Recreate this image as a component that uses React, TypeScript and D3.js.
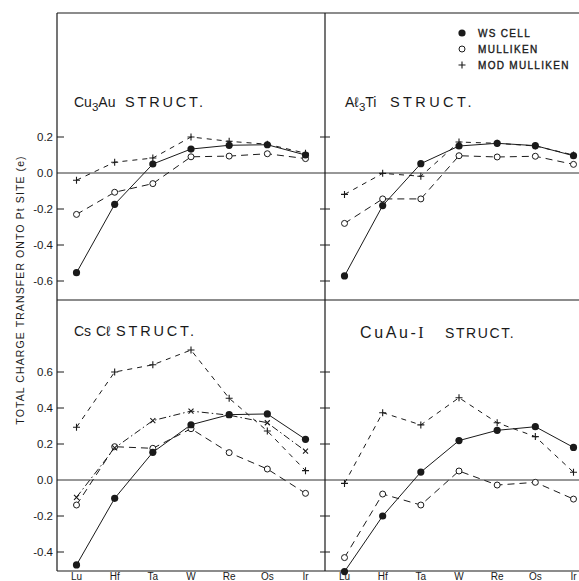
import React from "react";
import * as d3 from "d3";

// Elements along the x axis (5d transition metals)
const elements = ["Lu", "Hf", "Ta", "W", "Re", "Os", "Ir"];

// Cu3Au structure
const cu3auWS = [-0.554, -0.174, 0.05, 0.133, 0.154, 0.157, 0.1];
const cu3auMull = [-0.23, -0.107, -0.059, 0.09, 0.094, 0.107, 0.08];
const cu3auMod = [-0.04, 0.06, 0.083, 0.2, 0.176, 0.16, 0.11];

// Al3Ti structure
const al3tiWS = [-0.572, -0.181, 0.052, 0.15, 0.165, 0.152, 0.096];
const al3tiMull = [-0.28, -0.144, -0.144, 0.096, 0.089, 0.093, 0.048];
const al3tiMod = [-0.119, -0.002, -0.018, 0.172, 0.165, 0.15, 0.1];

// CsCl structure
const csclWS = [-0.472, -0.102, 0.154, 0.307, 0.363, 0.367, 0.226];
const csclMull = [-0.139, 0.185, 0.176, 0.285, 0.152, 0.061, -0.074];
const csclMod = [0.293, 0.6, 0.64, 0.722, 0.454, 0.272, 0.052];
const csclCross = [-0.096, 0.178, 0.33, 0.383, 0.36, 0.318, 0.161];

// CuAu-I structure
const cuauWS = [-0.509, -0.2, 0.044, 0.219, 0.276, 0.296, 0.181];
const cuauMull = [-0.431, -0.078, -0.139, 0.05, -0.028, -0.013, -0.106];
const cuauMod = [-0.019, 0.374, 0.306, 0.457, 0.318, 0.241, 0.043];

const topTicks = [0.2, 0.0, -0.2, -0.4, -0.6];
const bottomTicks = [0.6, 0.4, 0.2, 0.0, -0.2, -0.4];
const tickLabel = (v: number) => (v < 0 ? "-" : "") + Math.abs(v).toFixed(1);

const legendItems = [
  { kind: "ws", label: "WS CELL" },
  { kind: "mull", label: "MULLIKEN" },
  { kind: "mod", label: "MOD MULLIKEN" },
];

const INK = "#1a1a1a";
const FONT = "'Liberation Sans', Arial, sans-serif";

const LEFT = 57;
const MID = 325;
const RIGHT = 579;
const TOP = 13;
const HMID = 300;
const BOTTOM = 571;
const PANEL_W = MID - LEFT;

type Series = { values: number[]; kind: string };

function Marker({ kind, x, y }: { kind: string; x: number; y: number }) {
  if (kind === "ws") return <circle cx={x} cy={y} r={3.6} fill={INK} />;
  if (kind === "mull")
    return <circle cx={x} cy={y} r={3} fill="white" stroke={INK} strokeWidth={1} />;
  if (kind === "mod")
    return (
      <path
        d={`M${x - 3.5},${y}H${x + 3.5}M${x},${y - 3.5}V${y + 3.5}`}
        stroke={INK}
        strokeWidth={1.1}
      />
    );
  return (
    <path
      d={`M${x - 2.5},${y - 2.5}L${x + 2.5},${y + 2.5}M${x - 2.5},${y + 2.5}L${x + 2.5},${y - 2.5}`}
      stroke={INK}
      strokeWidth={1.1}
    />
  );
}

const dashFor: Record<string, string | undefined> = {
  ws: undefined,
  mull: "7,5",
  mod: "5,5",
  cross: "7,3,1.5,3",
};

function Panel({
  x0,
  yTop,
  yBottom,
  domain,
  series,
}: {
  x0: number;
  yTop: number;
  yBottom: number;
  domain: [number, number];
  series: Series[];
}) {
  const x = d3
    .scalePoint<string>()
    .domain(elements)
    .range([x0 + 19.5, x0 + PANEL_W - 19.5]);
  const y = d3.scaleLinear().domain(domain).range([yBottom, yTop]);
  const line = d3
    .line<number>()
    .x((_, i) => x(elements[i]) as number)
    .y((d) => y(d));
  return (
    <g>
      <line x1={x0} x2={Math.min(x0 + PANEL_W, RIGHT)} y1={y(0)} y2={y(0)} stroke={INK} strokeWidth={0.9} />
      {series.map((s, k) => (
        <path
          key={k}
          d={line(s.values) || ""}
          fill="none"
          stroke={INK}
          strokeWidth={1}
          strokeDasharray={dashFor[s.kind]}
        />
      ))}
      {series.map((s, k) =>
        s.values.map((v, i) => (
          <Marker key={`${k}-${i}`} kind={s.kind} x={x(elements[i]) as number} y={y(v)} />
        ))
      )}
    </g>
  );
}

export default function App() {
  const topDomain: [number, number] = [-(HMID - 173) / 180, (173 - TOP) / 180];
  const botDomain: [number, number] = [-(BOTTOM - 480) / 180, (480 - HMID) / 180];
  const yTopScale = d3.scaleLinear().domain(topDomain).range([HMID, TOP]);
  const yBotScale = d3.scaleLinear().domain(botDomain).range([BOTTOM, HMID]);

  const xLeft = d3.scalePoint<string>().domain(elements).range([LEFT + 19.5, LEFT + PANEL_W - 19.5]);
  const xRight = d3.scalePoint<string>().domain(elements).range([MID + 19.5, MID + PANEL_W - 19.5]);

  const titleStyle = { fontFamily: FONT, fill: INK, fontSize: 14 } as const;

  return (
    <svg width={579} height={581} style={{ position: "absolute", left: 0, top: 0, background: "white" }}>
      <rect width={579} height={581} fill="white" />

      {/* frame */}
      <g stroke={INK} strokeWidth={1.2} fill="none">
        <line x1={LEFT} x2={RIGHT} y1={TOP} y2={TOP} />
        <line x1={LEFT} x2={LEFT} y1={TOP} y2={BOTTOM} />
        <line x1={MID} x2={MID} y1={TOP} y2={BOTTOM} />
        <line x1={LEFT} x2={RIGHT} y1={HMID} y2={HMID} />
        <line x1={LEFT} x2={RIGHT} y1={BOTTOM} y2={BOTTOM} />
      </g>

      {/* ticks and tick labels */}
      {topTicks.map((t) => (
        <g key={`t${t}`}>
          {t !== 0 && (
            <>
              <line x1={LEFT} x2={LEFT + 7} y1={yTopScale(t)} y2={yTopScale(t)} stroke={INK} strokeWidth={1} />
              <line x1={MID - 5} x2={MID + 5} y1={yTopScale(t)} y2={yTopScale(t)} stroke={INK} strokeWidth={1} />
            </>
          )}
          <text x={53} y={yTopScale(t) + 4} textAnchor="end" fontSize={11.5} fontFamily={FONT} fill={INK}>
            {tickLabel(t)}
          </text>
        </g>
      ))}
      {bottomTicks.map((t) => (
        <g key={`b${t}`}>
          {t !== 0 && (
            <>
              <line x1={LEFT} x2={LEFT + 7} y1={yBotScale(t)} y2={yBotScale(t)} stroke={INK} strokeWidth={1} />
              <line x1={MID - 5} x2={MID + 5} y1={yBotScale(t)} y2={yBotScale(t)} stroke={INK} strokeWidth={1} />
            </>
          )}
          <text x={53} y={yBotScale(t) + 4} textAnchor="end" fontSize={11.5} fontFamily={FONT} fill={INK}>
            {tickLabel(t)}
          </text>
        </g>
      ))}

      {/* x labels */}
      {elements.map((e) => (
        <g key={e}>
          <text x={xLeft(e)} y={580} textAnchor="middle" fontSize={10} fontFamily={FONT} fill={INK}>
            {e}
          </text>
          <text x={xRight(e)} y={580} textAnchor="middle" fontSize={10} fontFamily={FONT} fill={INK}>
            {e}
          </text>
        </g>
      ))}

      {/* y axis title */}
      <text
        transform="translate(24,290) rotate(-90)"
        textAnchor="middle"
        fontSize={10.5}
        letterSpacing={1.1}
        fontFamily={FONT}
        fill={INK}
      >
        TOTAL CHARGE TRANSFER ONTO Pt SITE (e)
      </text>

      <Panel
        x0={LEFT}
        yTop={TOP}
        yBottom={HMID}
        domain={topDomain}
        series={[
          { values: cu3auMull, kind: "mull" },
          { values: cu3auMod, kind: "mod" },
          { values: cu3auWS, kind: "ws" },
        ]}
      />
      <Panel
        x0={MID}
        yTop={TOP}
        yBottom={HMID}
        domain={topDomain}
        series={[
          { values: al3tiMull, kind: "mull" },
          { values: al3tiMod, kind: "mod" },
          { values: al3tiWS, kind: "ws" },
        ]}
      />
      <Panel
        x0={LEFT}
        yTop={HMID}
        yBottom={BOTTOM}
        domain={botDomain}
        series={[
          { values: csclMull, kind: "mull" },
          { values: csclMod, kind: "mod" },
          { values: csclCross, kind: "cross" },
          { values: csclWS, kind: "ws" },
        ]}
      />
      <Panel
        x0={MID}
        yTop={HMID}
        yBottom={BOTTOM}
        domain={botDomain}
        series={[
          { values: cuauMull, kind: "mull" },
          { values: cuauMod, kind: "mod" },
          { values: cuauWS, kind: "ws" },
        ]}
      />

      {/* panel titles */}
      <text x={74} y={107} {...titleStyle}>
        Cu<tspan dy={4} fontSize={11.5}>3</tspan>
        <tspan dy={-4}>Au</tspan>
        <tspan x={125} fontSize={14.5} letterSpacing={2.8}>STRUCT.</tspan>
      </text>
      <text x={345} y={107} {...titleStyle}>
        Aℓ<tspan dy={4} fontSize={11.5}>3</tspan>
        <tspan dy={-4}>Ti</tspan>
        <tspan x={390} fontSize={14.5} letterSpacing={3.4}>STRUCT.</tspan>
      </text>
      <text x={74} y={336} {...titleStyle}>
        Cs
        <tspan x={96}>Cℓ</tspan>
        <tspan x={116} fontSize={14.5} letterSpacing={2.8}>STRUCT.</tspan>
      </text>
      <text x={360} y={338} fontFamily={FONT} fill={INK} fontSize={16} letterSpacing={2.6}>
        CuAu-<tspan fontFamily="'Liberation Serif', serif">I</tspan>
        <tspan x={445} fontSize={14} letterSpacing={1.6}>STRUCT.</tspan>
      </text>

      {/* legend */}
      {legendItems.map((it, i) => (
        <g key={it.kind}>
          <Marker kind={it.kind} x={462} y={33 + i * 16} />
          <text
            x={478}
            y={33 + i * 16 + 4}
            fontSize={10}
            letterSpacing={1.3}
            fontFamily={FONT}
            fill={INK}
            stroke={INK}
            strokeWidth={0.35}
          >
            {it.label}
          </text>
        </g>
      ))}
    </svg>
  );
}
